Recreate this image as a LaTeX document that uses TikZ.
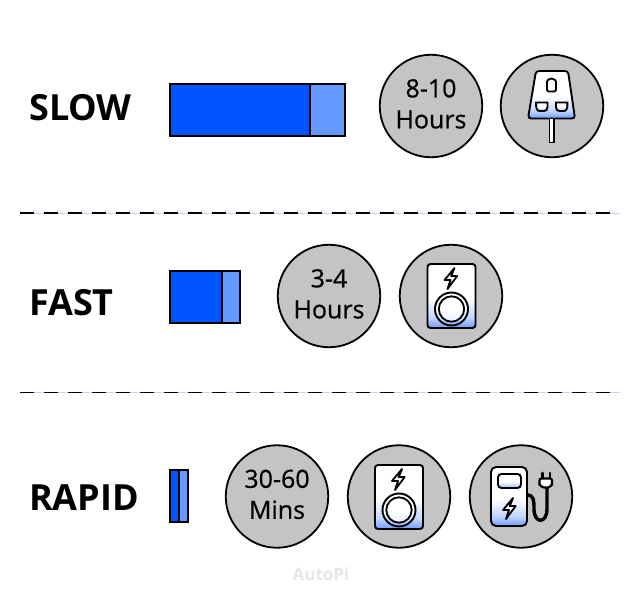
\documentclass[tikz,border=0pt]{standalone}
\usepackage{fontspec}
\setmainfont{Open Sans}
\newfontfamily\badgefont[FakeBold=0.6]{Open Sans}
\definecolor{barblue}{HTML}{0055FF}
\definecolor{barlight}{HTML}{6699FF}
\definecolor{badgegrey}{HTML}{C4C4C4}
\definecolor{fadeblue}{HTML}{6F9CFF}
\definecolor{fademid}{HTML}{C0D4FF}
\definecolor{markgrey}{HTML}{E6E6E6}
\definecolor{ruleblue}{HTML}{C6D6F2}
\pgfdeclareverticalshading{iconfade}{100bp}{color(0bp)=(fadeblue); color(25bp)=(fadeblue); color(33bp)=(fademid); color(48bp)=(white); color(100bp)=(white)}
\begin{document}
\begin{tikzpicture}[
x=1pt, y=-1pt,
heading/.style={font=\fontsize{36}{36}\selectfont\bfseries, anchor=west, inner sep=0pt},
badge/.style={circle, draw=black, fill=badgegrey, line width=1.8pt, minimum size=102.5pt, inner sep=0pt, outer sep=0pt, align=center, font=\fontsize{25}{31}\selectfont\badgefont},
barmain/.style={rectangle, draw=black, fill=barblue, line width=1.6pt, anchor=north west, inner sep=0pt, outer sep=0pt, minimum height=52pt},
barrest/.style={rectangle, draw=black, fill=barlight, line width=1.6pt, anchor=north west, inner sep=0pt, outer sep=0pt, minimum height=52pt},
divider/.style={black, line width=1.6pt, dash pattern=on 14pt off 10pt},
faded/.style={draw=black, line width=1.9pt, shade, shading=iconfade},
bolt/.pic={
	\draw [line width=1.8pt, line join=round, fill=white]
	(4,-10) -- (-6,2) -- (0,2) -- (-3,11) -- (6.7,-2) -- (0.7,-2) -- cycle;
},
wallbox/.pic={
	\draw [faded, rounded corners=3pt] (-24,-32) rectangle (24,32);
	\pic at (-1,-18) {bolt};
	\draw [faded] (0,13) circle (16.5);
	\draw [black, line width=1.8pt, fill=white, fill opacity=.7] (0,13) circle (12.7);
},
wallplug/.pic={
	\draw [faded, rounded corners=3pt] (-16,-35) -- (16,-35) -- (23,12.5) -- (-24,12.5) -- cycle;
	\draw [black, line width=1.7pt, fill=white] (-2.5,12.5) rectangle (2,36.5);
	\draw [black, line width=1.8pt, fill=white, rounded corners=1.5pt] (-5,-14.5) -- (-5,-23) arc (180:360:4.5) -- (4,-14.5) -- cycle;
	\draw [faded] (-16,-3.5) -- (-4.5,-3.5) -- (-4.5,1) .. controls (-4.5,4) and (-6,5) .. (-8,5) -- (-12,5) .. controls (-15,5) and (-16,3) .. (-16,-3.5) -- cycle;
	\draw [faded] (4,-3.5) -- (15.5,-3.5) .. controls (15.5,3) and (14.5,5) .. (11.5,5) -- (7.5,5) .. controls (5.5,5) and (4,4) .. (4,1) -- cycle;
},
chargepump/.pic={
	\draw [black, line width=3.4pt, line cap=round] (6,-2) .. controls (13,-2) and (13,4) .. (13,12) .. controls (13,27) and (26,27) .. (26,12) -- (26,-12);
	\draw [faded, rounded corners=5pt] (-30,-30) rectangle (6,29);
	\draw [faded, rounded corners=3.5pt] (-23,-23) rectangle (0,-9);
	\pic at (-12,11) {bolt};
	\draw [black, line width=2.8pt, line cap=round] (21.5,-24) -- (21.5,-19) (29,-24) -- (29,-19);
	\draw [black, line width=2.2pt, fill=white, rounded corners=2pt] (18.5,-18.5) -- (31,-18.5) -- (31,-15) .. controls (31,-11.5) and (28,-9.5) .. (25,-9.5) .. controls (21.5,-9.5) and (18.5,-11.5) .. (18.5,-15) -- cycle;
},
]
\useasboundingbox (0,0) rectangle (641,594);
% slow
\node[heading] (slowhead) at (29,108) {SLOW};
\node[barmain, minimum width=140pt] (slowbar) at (170,84) {};
\node[barrest, minimum width=35pt] (slowrest) at (310,84) {};
\node[badge] (slowtime) at (431,106) {\raisebox{4.5pt}{8-10}\\\raisebox{4.5pt}{Hours}};
\node[badge] (slowicon) at (552,106) {};
\pic at (552,106) {wallplug};
% dashed line under slow
\coordinate (ruleAl) at (20,213);
\coordinate (ruleAr) at (620,213);
\draw [ruleblue, line width=1pt] (ruleAl) -- (ruleAr);
\draw [divider] (ruleAl) -- (ruleAr);
% fast
\node[heading] (fasthead) at (29,303) {FAST};
\node[barmain, minimum width=52pt] (fastbar) at (170,271) {};
\node[barrest, minimum width=18pt] (fastrest) at (222,271) {};
\node[badge] (fasttime) at (329,296) {\raisebox{4.5pt}{3-4}\\\raisebox{4.5pt}{Hours}};
\node[badge] (fasticon) at (451,296) {};
\pic at (451.5,296) {wallbox};
% dashed line under fast
\coordinate (ruleBl) at (20,392.5);
\coordinate (ruleBr) at (620,392.5);
\draw [ruleblue, line width=1pt] (ruleBl) -- (ruleBr);
\draw [divider] (ruleBl) -- (ruleBr);
% rapid
\node[heading] (rapidhead) at (29,498) {RAPID};
\node[barmain, minimum width=9pt] (rapidbar) at (170,470) {};
\node[barrest, minimum width=9pt] (rapidrest) at (179,470) {};
\node[badge] (rapidtime) at (277,496.5) {\raisebox{4.5pt}{30-60}\\\raisebox{4.5pt}{Mins}};
\node[badge] (rapidicon) at (399,496.5) {};
\pic at (399,497) {wallbox};
\node[badge] (pumpicon) at (521,496.5) {};
\pic at (521,497) {chargepump};
\node[text=markgrey, font=\fontsize{17}{17}\selectfont\bfseries] (mark) at (321,574) {AutoPi};
\end{tikzpicture}
\end{document}
